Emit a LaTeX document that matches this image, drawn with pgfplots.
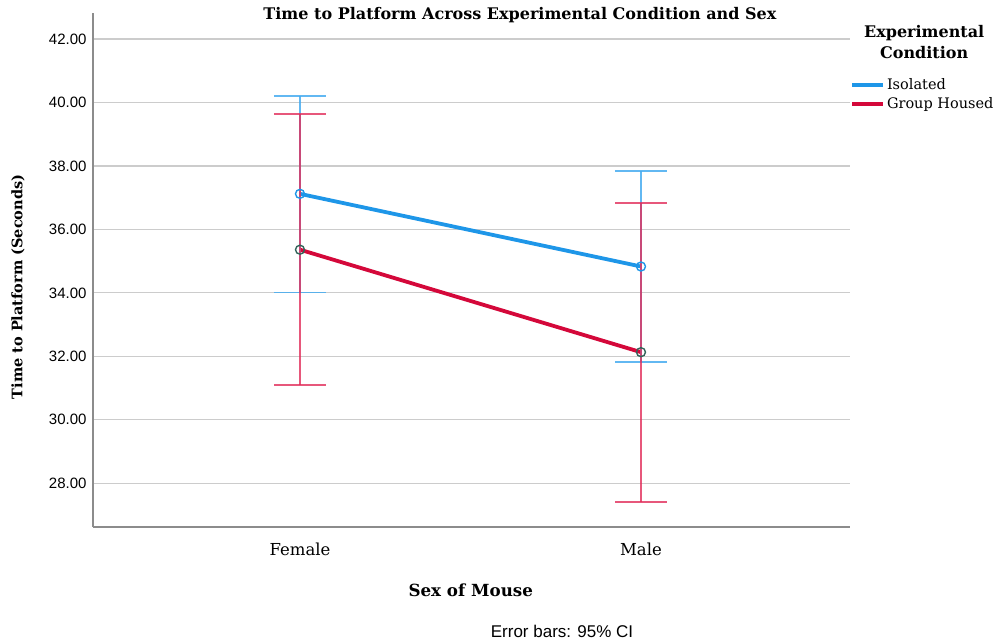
\documentclass[border=0pt]{standalone}
\usepackage{pgfplots}
\pgfplotsset{compat=1.18}
\usepackage{fontspec}
\setmainfont{DejaVu Serif}
\newfontfamily\arialfont{Liberation Sans}
\definecolor{isoblue}{RGB}{30,150,232}
\definecolor{isobar}{RGB}{70,172,240}
\definecolor{ghred}{RGB}{212,8,58}
\definecolor{ghbar}{RGB}{225,45,90}
\definecolor{ghmark}{RGB}{50,100,90}
\definecolor{gridgray}{RGB}{204,204,204}
\definecolor{axisgray}{RGB}{140,140,140}
\begin{document}
\begin{tikzpicture}
\useasboundingbox (-93bp,-116bp) rectangle (908bp,527bp);
\begin{axis}[
  at={(0,0)}, anchor=south west,
  scale only axis, width=757bp, height=514bp,
  clip=false,
  xmin=-0.607, xmax=1.613, ymin=26.62, ymax=42.82,
  axis x line=bottom, axis y line=left,
  axis line style={axisgray, line width=1.6bp, -},
  xtick={0,1}, xticklabels={Female, Male},
  ytick={28,30,32,34,36,38,40,42},
  major tick length=0pt,
  ymajorgrids, grid style={gridgray, line width=1.2bp},
  yticklabel style={font=\arialfont\fontsize{15bp}{18bp}\selectfont, xshift=-3bp,
    /pgf/number format/fixed, /pgf/number format/fixed zerofill,
    /pgf/number format/precision=2, /pgf/number format/assume math mode=true},
  xticklabel style={font=\fontsize{16.5bp}{18bp}\selectfont, yshift=-12bp},
  legend style={at={(1.0,0.877)}, anchor=north west, draw=none, fill=none,
    font=\fontsize{14.5bp}{16bp}\selectfont, row sep=3bp, inner sep=0pt,
    cells={anchor=west}},
  legend image code/.code={\draw[#1, line width=3.8bp] (0bp,0bp) -- (31bp,0bp);},
]
% mean lines
\addplot[isoblue, line width=3.8bp, mark=o, mark size=4.5bp,
  mark options={line width=1.4bp, isoblue}]
  coordinates {(0,37.12) (1,34.83)};
\addlegendentry{Isolated}
\addplot[ghred, line width=3.8bp, mark=o, mark size=4.5bp,
  mark options={line width=1.4bp, ghmark}]
  coordinates {(0,35.36) (1,32.13)};
\addlegendentry{Group Housed}
% error bars (95% CI)
\addplot[forget plot, draw=none, mark=none, opacity=0.85,
  error bars/.cd, y dir=both, y explicit,
  error bar style={draw=isobar, line width=1.8bp},
  error mark options={draw=isobar, line width=1.8bp, mark size=26bp, rotate=90}]
  coordinates {(0,37.12) += (0,3.09) -= (0,3.11)
               (1,34.83) += (0,3.02) -= (0,3.02)};
\addplot[forget plot, draw=none, mark=none, opacity=0.8,
  error bars/.cd, y dir=both, y explicit,
  error bar style={draw=ghbar, line width=1.8bp},
  error mark options={draw=ghbar, line width=1.8bp, mark size=26bp, rotate=90}]
  coordinates {(0,35.36) += (0,4.28) -= (0,4.27)
               (1,32.13) += (0,4.71) -= (0,4.72)};
% texts
\node[font=\bfseries\fontsize{16bp}{18bp}\selectfont] at (rel axis cs:0.564,0.996)
  {Time to Platform Across Experimental Condition and Sex};
\node[font=\bfseries\fontsize{16bp}{21bp}\selectfont, align=center] at (rel axis cs:1.098,0.943)
  {Experimental\\Condition};
\node[font=\bfseries\fontsize{14.5bp}{18bp}\selectfont, rotate=90] at (rel axis cs:-0.099,0.467)
  {Time to Platform (Seconds)};
\node[font=\bfseries\fontsize{16.7bp}{18bp}\selectfont] at (rel axis cs:0.499,-0.1226)
  {Sex of Mouse};
\node[font=\arialfont\fontsize{17bp}{18bp}\selectfont] at (rel axis cs:0.6196,-0.2023)
  {Error bars: 95\% CI};
\end{axis}
\end{tikzpicture}
\end{document}
